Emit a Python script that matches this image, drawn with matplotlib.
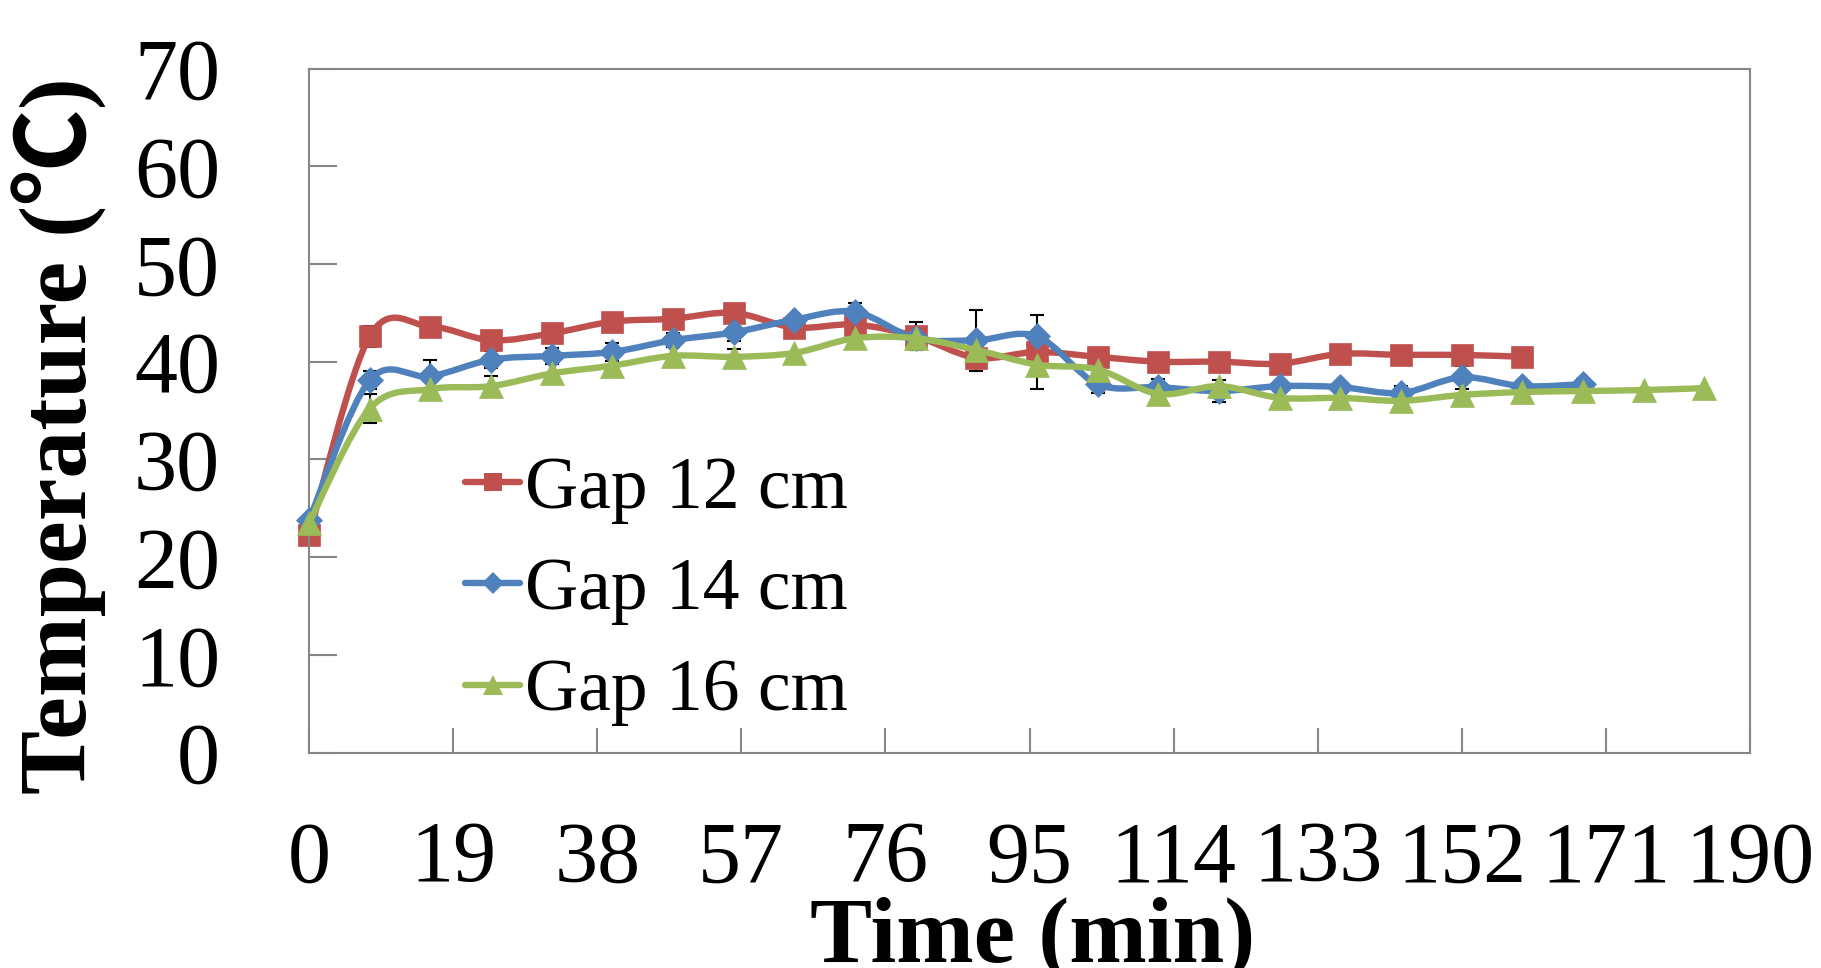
import numpy as np
import matplotlib
matplotlib.use('Agg')
import matplotlib.pyplot as plt
from matplotlib.path import Path
from matplotlib.patches import PathPatch
from matplotlib.lines import Line2D

plt.rcParams['font.family'] = ['Liberation Serif', 'Noto Sans CJK SC', 'DejaVu Sans']

# time (min)
t12 = [0, 8, 16, 24, 32, 40, 48, 56, 64, 72, 80, 88, 96, 104, 112, 120, 128, 136, 144, 152, 160]
t14 = [0, 8, 16, 24, 32, 40, 48, 56, 64, 72, 80, 88, 96, 104, 112, 120, 128, 136, 144, 152, 160, 168]
t16 = [0, 8, 16, 24, 32, 40, 48, 56, 64, 72, 80, 88, 96, 104, 112, 120, 128, 136, 144, 152, 160, 168, 176, 184]

# temperatures
gap12 = [22.3, 42.6, 43.6, 42.2, 42.9, 44.1, 44.4, 45.0, 43.5, 43.8, 42.6, 40.4, 41.0, 40.5,
         40.0, 40.0, 39.8, 40.8, 40.7, 40.7, 40.5]
gap14 = [23.8, 38.1, 38.5, 40.2, 40.6, 41.0, 42.2, 43.0, 44.3, 45.1, 42.4, 42.2, 42.6, 37.7,
         37.4, 37.0, 37.5, 37.4, 36.8, 38.4, 37.5, 37.7]
gap16 = [23.5, 35.2, 37.2, 37.5, 38.8, 39.6, 40.6, 40.5, 40.9, 42.4, 42.4, 41.2, 39.7, 39.2,
         36.7, 37.5, 36.3, 36.3, 36.0, 36.6, 36.9, 37.0, 37.1, 37.3]

# standard deviations (0 = hidden behind marker)
err12 = [0, 1.1, 0, 0, 0, 0, 0, 0, 0, 0, 1.45, 0, 3.8, 0, 0, 0, 0, 0, 0, 0, 0]
err14 = [0, 0.9, 1.7, 0.85, 0.8, 0.95, 0.7, 0.93, 0, 0.95, 0, 3.1, 0, 0.9, 0.86, 1.1, 0, 0,
         0.7, 1.2, 0, 0.5]
err16 = [0, 1.5, 0.8, 1.0, 0, 0, 0.95, 0.85, 0, 0, 0, 0, 0, 0, 0, 0, 0, 0, 0, 0, 0, 0, 0.2, 0]

labels = ['Gap 12 cm', 'Gap 14 cm', 'Gap 16 cm']
colors = ['#C0504D', '#4F81BD', '#9BBB59']
markers = ['s', 'D', '^']
msizes = [16, 13.5, 17]


def smooth(x, y):
    # Excel-style smoothed line: cubic Bezier through the points
    p = np.column_stack([np.asarray(x, float), np.asarray(y, float)])
    n = len(p)
    verts = [p[0]]
    codes = [Path.MOVETO]
    for i in range(n - 1):
        p0 = p[max(i - 1, 0)]
        p1 = p[i]
        p2 = p[i + 1]
        p3 = p[min(i + 2, n - 1)]
        verts += [p1 + (p2 - p0) / 6, p2 - (p3 - p1) / 6, p2]
        codes += [Path.CURVE4] * 3
    return Path(verts, codes)


fig = plt.figure(figsize=(18.21, 9.68), dpi=100)
ax = fig.add_axes([0.1697, 0.2225, 0.7913, 0.7067])

series = [(t12, gap12, err12), (t14, gap14, err14), (t16, gap16, err16)]
handles = []
for k, (t, y, e) in enumerate(series):
    t = np.array(t)
    y = np.array(y)
    e = np.array(e)
    m = e > 0
    ax.errorbar(t[m], y[m], yerr=e[m], fmt='none', ecolor='black', elinewidth=1.5,
                capsize=4.7, capthick=1.5, zorder=1.5)
    ax.add_patch(PathPatch(smooth(t, y), fill=False, edgecolor=colors[k], lw=4.6,
                           capstyle='round', joinstyle='round', zorder=2 + k))
    ax.plot(t, y, ls='none', marker=markers[k], ms=msizes[k], color=colors[k],
            mec=colors[k], mew=0.5, zorder=2.5 + k, clip_on=False)
    handles.append(Line2D([], [], color=colors[k], lw=4.6, marker=markers[k],
                          ms=msizes[k] * 0.85, mew=0, solid_capstyle='round'))

ax.set_xlim(0, 190)
ax.set_ylim(0, 70)
ax.set_xticks([0, 19, 38, 57, 76, 95, 114, 133, 152, 171, 190])
ax.set_yticks([0, 10, 20, 30, 40, 50, 60, 70])

for s in ax.spines.values():
    s.set_color('#868686')
    s.set_linewidth(1.5)
ax.tick_params(axis='both', direction='in', color='#868686', width=1.5, labelsize=62)
ax.tick_params(axis='y', length=20, pad=64)
ax.tick_params(axis='x', length=18, pad=49)

ax.set_ylabel('Temperature (℃)', fontsize=69, fontweight='bold', va='center')
ax.yaxis.set_label_coords(-0.1735, 0.4635)
ax.set_xlabel('Time (min)', fontsize=67, fontweight='bold', va='top')
ax.xaxis.set_label_coords(0.502, -0.2105)

ax.legend(handles, labels, loc='center left', bbox_to_anchor=(0.1083, 0.236),
          frameon=False, fontsize=53, handlelength=0.75, handletextpad=0.07,
          labelspacing=0.46, borderpad=0, borderaxespad=0)

fig.savefig('out.png', dpi=100)
